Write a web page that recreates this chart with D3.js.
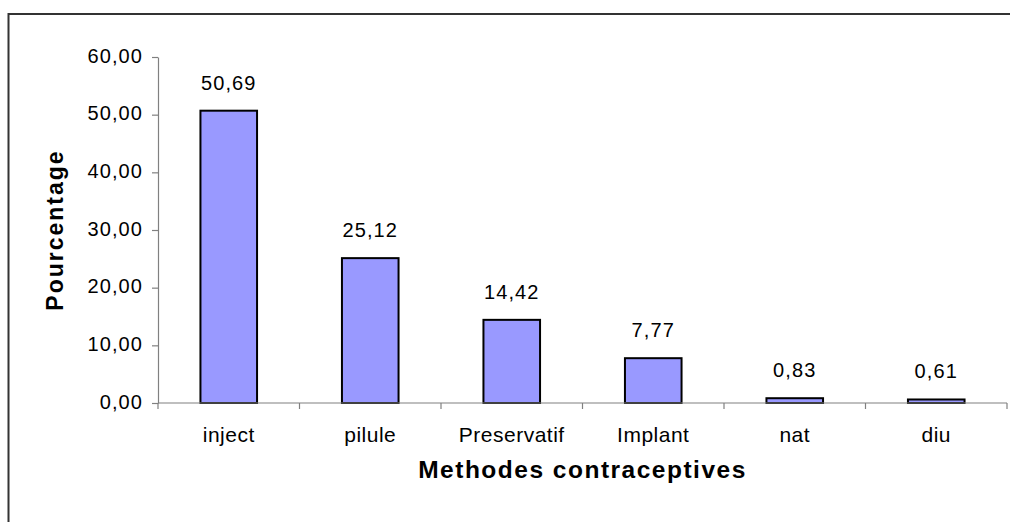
<!DOCTYPE html>
<html>
<head>
<meta charset="utf-8">
<script src="https://cdn.jsdelivr.net/npm/d3@7"></script>
<style>
  html, body { margin: 0; padding: 0; background: #fff; }
  svg { display: block; font-family: "Liberation Sans", Arial, sans-serif; }
</style>
</head>
<body>
<svg id="chart" width="1010" height="522"></svg>
<script>
const categories = ["inject", "pilule", "Preservatif", "Implant", "nat", "diu"];
const values = [50.69, 25.12, 14.42, 7.77, 0.83, 0.61];
const yTicks = [0, 10, 20, 30, 40, 50, 60];
const yTitle = "Pourcentage";
const xTitle = "Methodes contraceptives";

(function () {
const svg = d3.select("#chart");
const fmt = v => d3.format(".2f")(v).replace(".", ",");

// outer border
svg.append("rect")
  .attr("x", 8.5).attr("y", 14).attr("width", 1010).attr("height", 520)
  .attr("fill", "none").attr("stroke", "#333").attr("stroke-width", 2);

const pLeft = 158, pRight = 1007, pTop = 57, pBottom = 403;

const x = d3.scaleBand().domain(categories).range([pLeft, pRight]).paddingInner(0.6).paddingOuter(0.3);
const xOuter = d3.scaleBand().domain(categories).range([pLeft, pRight]);
const y = d3.scaleLinear().domain([0, 60]).range([pBottom, pTop]);

// Y axis
const yAxis = svg.append("g")
  .attr("transform", `translate(${pLeft},0)`)
  .call(d3.axisLeft(y).tickValues(yTicks).tickSize(6).tickSizeOuter(0).tickFormat(fmt));
yAxis.select(".domain").attr("stroke", "#808080").attr("stroke-width", 1.2);
yAxis.selectAll(".tick line").attr("stroke", "#808080").attr("stroke-width", 1.2);
yAxis.selectAll(".tick text")
  .attr("x", -15).attr("dy", "0.25em")
  .attr("font-size", 20).attr("letter-spacing", 1.1)
  .attr("font-family", "Liberation Sans, Arial, sans-serif")
  .attr("fill", "#000");

// bars
svg.append("g").selectAll("rect")
  .data(values)
  .join("rect")
  .attr("x", (d, i) => x(categories[i]))
  .attr("y", d => y(d))
  .attr("width", x.bandwidth())
  .attr("height", d => y(0) - y(d))
  .attr("fill", "#9999FF")
  .attr("stroke", "#000")
  .attr("stroke-width", 2);

// X axis
const xg = svg.append("g").attr("transform", `translate(0,${pBottom})`);
xg.append("line").attr("x1", pLeft).attr("x2", pRight).attr("y1", 0).attr("y2", 0)
  .attr("stroke", "#808080").attr("stroke-width", 1.2);
const boundaries = [pLeft].concat(categories.map(c => xOuter(c) + xOuter.bandwidth()));
xg.selectAll("line.tk").data(boundaries).join("line").attr("class", "tk")
  .attr("x1", d => d).attr("x2", d => d).attr("y1", 0).attr("y2", 6)
  .attr("stroke", "#808080").attr("stroke-width", 1.2);
xg.selectAll("text").data(categories).join("text")
  .attr("x", d => xOuter(d) + xOuter.bandwidth() / 2)
  .attr("y", 39)
  .attr("text-anchor", "middle")
  .attr("font-size", 21).attr("letter-spacing", 0.5)
  .attr("fill", "#000")
  .text(d => d);

// data labels
svg.append("g").selectAll("text")
  .data(values)
  .join("text")
  .attr("x", (d, i) => x(categories[i]) + x.bandwidth() / 2)
  .attr("y", d => y(d) - 21)
  .attr("text-anchor", "middle")
  .attr("font-size", 20).attr("letter-spacing", 1.1)
  .attr("fill", "#000")
  .text(d => fmt(d));

// axis titles
svg.append("text")
  .attr("x", (pLeft + pRight) / 2).attr("y", 478)
  .attr("text-anchor", "middle")
  .attr("font-size", 24.5).attr("font-weight", "bold").attr("letter-spacing", 1.5)
  .attr("fill", "#000")
  .text(xTitle);

svg.append("text")
  .attr("transform", `translate(63,${(pTop + pBottom) / 2}) rotate(-90)`)
  .attr("text-anchor", "middle")
  .attr("font-size", 23).attr("font-weight", "bold").attr("letter-spacing", 2)
  .attr("fill", "#000")
  .text(yTitle);
})();
</script>
</body>
</html>
